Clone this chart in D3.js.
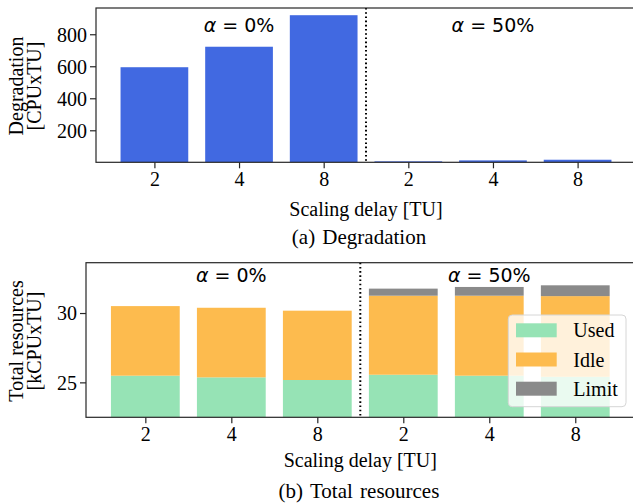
<!DOCTYPE html>
<html>
<head>
<meta charset="utf-8">
<script src="https://cdn.jsdelivr.net/npm/d3@7"></script>
<style>
  html, body { margin: 0; padding: 0; background: #fff; }
  svg { display: block; }
</style>
</head>
<body>
<svg id="chart" width="633" height="504"></svg>
<script>
// ---------- data ----------
const categories = ["2", "4", "8", "2", "4", "8"];
const groupLabels = ["0%", "50%"];
const degradation = [594, 722, 919, 6, 12, 16];
const usedValues = [25.48, 25.36, 25.17, 25.55, 25.48, 25.40];
const idleTops = [30.50, 30.38, 30.17, 31.25, 31.25, 31.22];
const limitTops = [30.50, 30.38, 30.17, 31.76, 31.88, 32.00];
const degTicks = [200, 400, 600, 800];
const resTicks = [25, 30];
const legendLabels = ["Used", "Idle", "Limit"];

// ---------- style ----------
const serif = "'Liberation Serif', 'Times New Roman', serif";
const sans = "'DejaVu Sans', sans-serif";
const colBlue = "#4169E1";
const colUsed = "#96E3B5";
const colIdle = "#FDBB4E";
const colLimit = "#8A8A8A";
const spine = "#262626";

const svg = d3.select("#chart");
const idx = d3.range(categories.length);

function drawPanel(cfg) {
  const g = svg.append("g");
  const x = d3.scaleLinear().domain([-0.69, 5.69]).range([cfg.left, cfg.right]);
  const y = d3.scaleLinear().domain(cfg.yDomain).range([cfg.bottom, cfg.top]);
  const bw = x(0.4) - x(-0.4);

  // clip region
  const clipId = "clip" + cfg.id;
  svg.append("clipPath").attr("id", clipId)
    .append("rect").attr("x", cfg.left).attr("y", cfg.top)
    .attr("width", cfg.right - cfg.left).attr("height", cfg.bottom - cfg.top);
  const plot = g.append("g").attr("clip-path", `url(#${clipId})`);

  cfg.drawBars(plot, x, y, bw);

  // divider
  plot.append("line")
    .attr("x1", x(2.5)).attr("x2", x(2.5))
    .attr("y1", cfg.top).attr("y2", cfg.bottom)
    .attr("stroke", "#000").attr("stroke-width", 2)
    .attr("stroke-dasharray", "1.6,2.6");

  // group labels
  [1, 4].forEach((c, i) => {
    const t = g.append("text")
      .attr("x", x(c)).attr("y", cfg.alphaY)
      .attr("text-anchor", "middle")
      .style("font-family", sans).style("font-size", "19px").attr("fill", "#000");
    t.append("tspan").style("font-style", "italic").text("α");
    t.append("tspan").text(" = " + groupLabels[i]);
  });

  // axes
  const xAxis = d3.axisBottom(x).tickValues(idx).tickFormat(i => categories[i])
    .tickSize(6).tickPadding(4);
  const gx = g.append("g").attr("transform", `translate(0,${cfg.bottom})`).call(xAxis);
  gx.select(".domain").remove();
  gx.selectAll("line").attr("stroke", spine).attr("stroke-width", 1.2);
  gx.selectAll("text").style("font-family", serif).style("font-size", "20px").attr("fill", "#000");

  const yAxis = d3.axisLeft(y).tickValues(cfg.yTicks).tickSize(6).tickPadding(3);
  const gy = g.append("g").attr("transform", `translate(${cfg.left},0)`).call(yAxis);
  gy.select(".domain").remove();
  gy.selectAll("line").attr("stroke", spine).attr("stroke-width", 1.2);
  gy.selectAll("text").style("font-family", serif).style("font-size", "20px").attr("fill", "#000")
    .attr("dy", "0.34em");

  // frame
  g.append("rect")
    .attr("x", cfg.left).attr("y", cfg.top)
    .attr("width", cfg.right - cfg.left).attr("height", cfg.bottom - cfg.top)
    .attr("fill", "none").attr("stroke", spine).attr("stroke-width", 1.2);

  // y label (two lines)
  cfg.yLabel.forEach((s, i) => {
    g.append("text")
      .attr("transform", `translate(${cfg.yLabelX[i]},${cfg.yLabelCenter}) rotate(-90)`)
      .attr("text-anchor", "middle")
      .style("font-family", serif).style("font-size", "20px").attr("fill", "#000")
      .text(s);
  });

  // x label
  g.append("text")
    .attr("x", (cfg.left + cfg.right) / 2).attr("y", cfg.xLabelY)
    .attr("text-anchor", "middle")
    .style("font-family", serif).style("font-size", "20px").attr("fill", "#000")
    .text("Scaling delay [TU]");

  // caption
  g.append("text")
    .attr("x", 359).attr("y", cfg.captionY)
    .attr("text-anchor", "middle")
    .style("font-family", serif).style("font-size", "21px").attr("fill", "#000")
    .style("word-spacing", "2px")
    .text(cfg.caption);

  return { x, y };
}

// ---------- panel (a) ----------
drawPanel({
  id: "a", left: 96, right: 636, top: 8, bottom: 162.3,
  yDomain: [0, 964], yTicks: degTicks, alphaY: 31.5,
  yLabel: ["Degradation", "[CPUxTU]"], yLabelX: [23, 41], yLabelCenter: 86,
  xLabelY: 216, captionY: 243.5, caption: "(a) Degradation",
  drawBars: (p, x, y, bw) => {
    p.selectAll("rect.deg").data(idx).enter().append("rect")
      .attr("class", "deg")
      .attr("x", i => x(i) - bw / 2).attr("width", bw)
      .attr("y", i => y(degradation[i])).attr("height", i => y(0) - y(degradation[i]))
      .attr("fill", colBlue);
  }
});

// ---------- panel (b) ----------
const pb = drawPanel({
  id: "b", left: 86, right: 634.6, top: 262.7, bottom: 417.3,
  yDomain: [22.48, 33.63], yTicks: resTicks, alphaY: 282,
  yLabel: ["Total resources", "[kCPUxTU]"], yLabelX: [23, 41], yLabelCenter: 341,
  xLabelY: 467, captionY: 498, caption: "(b) Total resources",
  drawBars: (p, x, y, bw) => {
    const base = y.domain()[0];
    p.selectAll("rect.used").data(idx).enter().append("rect")
      .attr("x", i => x(i) - bw / 2).attr("width", bw)
      .attr("y", i => y(usedValues[i])).attr("height", i => y(base) - y(usedValues[i]))
      .attr("fill", colUsed);
    p.selectAll("rect.idle").data(idx).enter().append("rect")
      .attr("x", i => x(i) - bw / 2).attr("width", bw)
      .attr("y", i => y(idleTops[i])).attr("height", i => y(usedValues[i]) - y(idleTops[i]))
      .attr("fill", colIdle);
    p.selectAll("rect.limit").data(idx.filter(i => limitTops[i] > idleTops[i])).enter().append("rect")
      .attr("x", i => x(i) - bw / 2).attr("width", bw)
      .attr("y", i => y(limitTops[i])).attr("height", i => y(idleTops[i]) - y(limitTops[i]))
      .attr("fill", colLimit);
  }
});

// ---------- legend ----------
const leg = svg.append("g");
leg.append("rect")
  .attr("x", 508.3).attr("y", 315).attr("width", 117.7).attr("height", 91.7)
  .attr("rx", 4).attr("ry", 4)
  .attr("fill", "#fff").attr("fill-opacity", 0.8)
  .attr("stroke", "#d6d6d6").attr("stroke-width", 1);
const legColors = [colUsed, colIdle, colLimit];
legendLabels.forEach((lab, i) => {
  const cy = 330.3 + i * 29.2;
  leg.append("rect").attr("x", 516).attr("y", cy - 7).attr("width", 40.7).attr("height", 14)
    .attr("fill", legColors[i]);
  leg.append("text").attr("x", 573.3).attr("y", cy + 7)
    .style("font-family", serif).style("font-size", "20px").attr("fill", "#000")
    .text(lab);
});
</script>
</body>
</html>
